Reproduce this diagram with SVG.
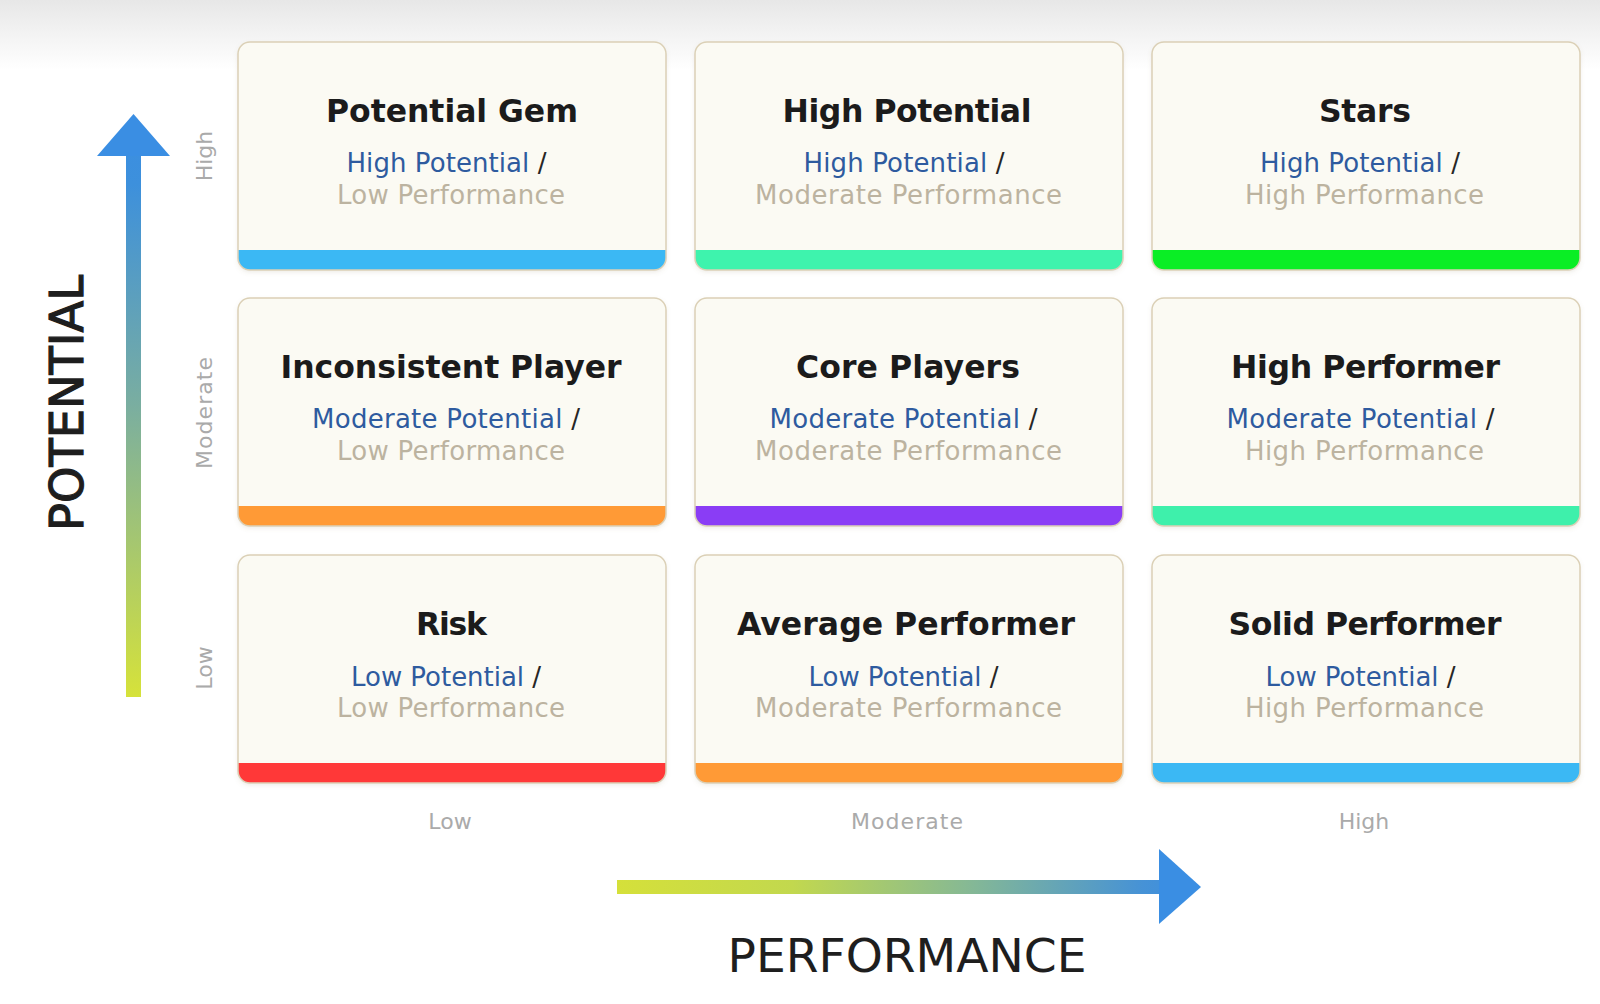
<svg xmlns="http://www.w3.org/2000/svg" width="1600" height="1004" viewBox="0 0 1600 1004">
<defs>
<linearGradient id="topband" x1="0" y1="0" x2="0" y2="1">
<stop offset="0" stop-color="#e7e7e7"/>
<stop offset="0.45" stop-color="#f2f2f2"/>
<stop offset="1" stop-color="#ffffff"/>
</linearGradient>
<linearGradient id="vgrad" gradientUnits="userSpaceOnUse" x1="0" y1="114" x2="0" y2="697">
<stop offset="0" stop-color="#3a8ee3"/>
<stop offset="0.12" stop-color="#3d90dc"/>
<stop offset="0.5" stop-color="#7aaea0"/>
<stop offset="1" stop-color="#d6e23a"/>
</linearGradient>
<linearGradient id="hgrad" gradientUnits="userSpaceOnUse" x1="617" y1="0" x2="1201" y2="0">
<stop offset="0" stop-color="#d5e03a"/>
<stop offset="0.3" stop-color="#c2d84e"/>
<stop offset="0.6" stop-color="#86b994"/>
<stop offset="0.9" stop-color="#4692d6"/>
<stop offset="1" stop-color="#3a8ee3"/>
</linearGradient>
<filter id="shadow" x="-5%" y="-5%" width="110%" height="115%">
<feDropShadow dx="0" dy="2" stdDeviation="2.5" flood-color="#8a7a55" flood-opacity="0.16"/>
</filter>
<style>
.card{fill:#fbfaf3;filter:url(#shadow)}
.edge{fill:none;stroke:#dbd0b6;stroke-width:1.5}
.title{font-family:"DejaVu Sans","Liberation Sans",sans-serif;font-weight:700;font-size:31.5px;fill:#1b1b1b;text-anchor:middle}
.l1{font-family:"DejaVu Sans","Liberation Sans",sans-serif;font-size:26px;fill:#2e5b9f;text-anchor:middle}
.sl{fill:#262626}
.l2{font-family:"DejaVu Sans","Liberation Sans",sans-serif;font-size:26px;fill:#bcb3a0;text-anchor:middle}
.ax{font-family:"DejaVu Sans","Liberation Sans",sans-serif;font-size:22px;fill:#aaaaaa;text-anchor:middle}
.big{font-family:"DejaVu Sans","Liberation Sans",sans-serif;font-size:47px;fill:#1e1e1e;text-anchor:middle}
</style>
</defs>
<rect x="0" y="0" width="1600" height="1004" fill="#ffffff"/>
<rect x="0" y="0" width="1600" height="70" fill="url(#topband)"/>

<g id="axes">
<rect x="126" y="150" width="15" height="547" fill="url(#vgrad)"/>
<polygon points="97,156 133.5,114 170,156" fill="#3a8ee3"/>
<rect x="617" y="880" width="548" height="14" fill="url(#hgrad)"/>
<polygon points="1159,849 1201,887 1159,924" fill="#3a8ee3"/>
<text class="big" transform="translate(83,403) rotate(-90)" textLength="256" lengthAdjust="spacingAndGlyphs" stroke="#1e1e1e" stroke-width="1.2">POTENTIAL</text>
<text class="big" x="907" y="972" textLength="359" lengthAdjust="spacingAndGlyphs">PERFORMANCE</text>
<text class="ax" transform="translate(212,156) rotate(-90)">High</text>
<text class="ax" transform="translate(212,413) rotate(-90)" textLength="112">Moderate</text>
<text class="ax" transform="translate(212,668) rotate(-90)">Low</text>
<text class="ax" x="450" y="829">Low</text>
<text class="ax" x="907" y="829" textLength="112">Moderate</text>
<text class="ax" x="1364" y="829">High</text>
</g>

<g id="connectors"></g>

<!-- Row 1 -->
<g id="potential-gem">
<rect class="card" x="238" y="42" width="428" height="228" rx="12"/>
<path d="M238,250 h428 v8 a12,12 0 0 1 -12,12 h-404 a12,12 0 0 1 -12,-12 z" fill="#3bb8f4"/>
<rect class="edge" x="238" y="42" width="428" height="228" rx="12"/>
<text class="title" x="452" y="122" textLength="252">Potential Gem</text>
<text class="l1" x="446.5" y="172" textLength="200">High Potential <tspan class="sl">/</tspan></text>
<text class="l2" x="451" y="203.5" textLength="228">Low Performance</text>
</g>
<g id="high-potential">
<rect class="card" x="695" y="42" width="428" height="228" rx="12"/>
<path d="M695,250 h428 v8 a12,12 0 0 1 -12,12 h-404 a12,12 0 0 1 -12,-12 z" fill="#3ef3ad"/>
<rect class="edge" x="695" y="42" width="428" height="228" rx="12"/>
<text class="title" x="907" y="122" textLength="249">High Potential</text>
<text class="l1" x="904" y="172" textLength="201">High Potential <tspan class="sl">/</tspan></text>
<text class="l2" x="908.5" y="203.5" textLength="307">Moderate Performance</text>
</g>
<g id="stars">
<rect class="card" x="1152" y="42" width="428" height="228" rx="12"/>
<path d="M1152,250 h428 v8 a12,12 0 0 1 -12,12 h-404 a12,12 0 0 1 -12,-12 z" fill="#0aee25"/>
<rect class="edge" x="1152" y="42" width="428" height="228" rx="12"/>
<text class="title" x="1365" y="122" textLength="92">Stars</text>
<text class="l1" x="1360" y="172" textLength="200">High Potential <tspan class="sl">/</tspan></text>
<text class="l2" x="1364.5" y="203.5" textLength="239">High Performance</text>
</g>

<!-- Row 2 -->
<g id="inconsistent-player">
<rect class="card" x="238" y="298" width="428" height="228" rx="12"/>
<path d="M238,506 h428 v8 a12,12 0 0 1 -12,12 h-404 a12,12 0 0 1 -12,-12 z" fill="#ff9a36"/>
<rect class="edge" x="238" y="298" width="428" height="228" rx="12"/>
<text class="title" x="451" y="378" textLength="341">Inconsistent Player</text>
<text class="l1" x="446" y="428" textLength="268">Moderate Potential <tspan class="sl">/</tspan></text>
<text class="l2" x="451" y="459.5" textLength="228">Low Performance</text>
</g>
<g id="core-players">
<rect class="card" x="695" y="298" width="428" height="228" rx="12"/>
<path d="M695,506 h428 v8 a12,12 0 0 1 -12,12 h-404 a12,12 0 0 1 -12,-12 z" fill="#8a3df5"/>
<rect class="edge" x="695" y="298" width="428" height="228" rx="12"/>
<text class="title" x="908" y="378" textLength="224">Core Players</text>
<text class="l1" x="903.5" y="428" textLength="268">Moderate Potential <tspan class="sl">/</tspan></text>
<text class="l2" x="908.5" y="459.5" textLength="307">Moderate Performance</text>
</g>
<g id="high-performer">
<rect class="card" x="1152" y="298" width="428" height="228" rx="12"/>
<path d="M1152,506 h428 v8 a12,12 0 0 1 -12,12 h-404 a12,12 0 0 1 -12,-12 z" fill="#3ef0ab"/>
<rect class="edge" x="1152" y="298" width="428" height="228" rx="12"/>
<text class="title" x="1365.5" y="378" textLength="269">High Performer</text>
<text class="l1" x="1360.5" y="428" textLength="268">Moderate Potential <tspan class="sl">/</tspan></text>
<text class="l2" x="1364.5" y="459.5" textLength="239">High Performance</text>
</g>

<!-- Row 3 -->
<g id="risk">
<rect class="card" x="238" y="555" width="428" height="228" rx="12"/>
<path d="M238,763 h428 v8 a12,12 0 0 1 -12,12 h-404 a12,12 0 0 1 -12,-12 z" fill="#ff3838"/>
<rect class="edge" x="238" y="555" width="428" height="228" rx="12"/>
<text class="title" x="451.5" y="635" textLength="71">Risk</text>
<text class="l1" x="446" y="685.5" textLength="190">Low Potential <tspan class="sl">/</tspan></text>
<text class="l2" x="451" y="717" textLength="228">Low Performance</text>
</g>
<g id="average-performer">
<rect class="card" x="695" y="555" width="428" height="228" rx="12"/>
<path d="M695,763 h428 v8 a12,12 0 0 1 -12,12 h-404 a12,12 0 0 1 -12,-12 z" fill="#ff9a36"/>
<rect class="edge" x="695" y="555" width="428" height="228" rx="12"/>
<text class="title" x="906" y="635" textLength="338">Average Performer</text>
<text class="l1" x="903.5" y="685.5" textLength="190">Low Potential <tspan class="sl">/</tspan></text>
<text class="l2" x="908.5" y="717" textLength="307">Moderate Performance</text>
</g>
<g id="solid-performer">
<rect class="card" x="1152" y="555" width="428" height="228" rx="12"/>
<path d="M1152,763 h428 v8 a12,12 0 0 1 -12,12 h-404 a12,12 0 0 1 -12,-12 z" fill="#3bb8f4"/>
<rect class="edge" x="1152" y="555" width="428" height="228" rx="12"/>
<text class="title" x="1365" y="635" textLength="273">Solid Performer</text>
<text class="l1" x="1360.5" y="685.5" textLength="190">Low Potential <tspan class="sl">/</tspan></text>
<text class="l2" x="1364.5" y="717" textLength="239">High Performance</text>
</g>
</svg>
